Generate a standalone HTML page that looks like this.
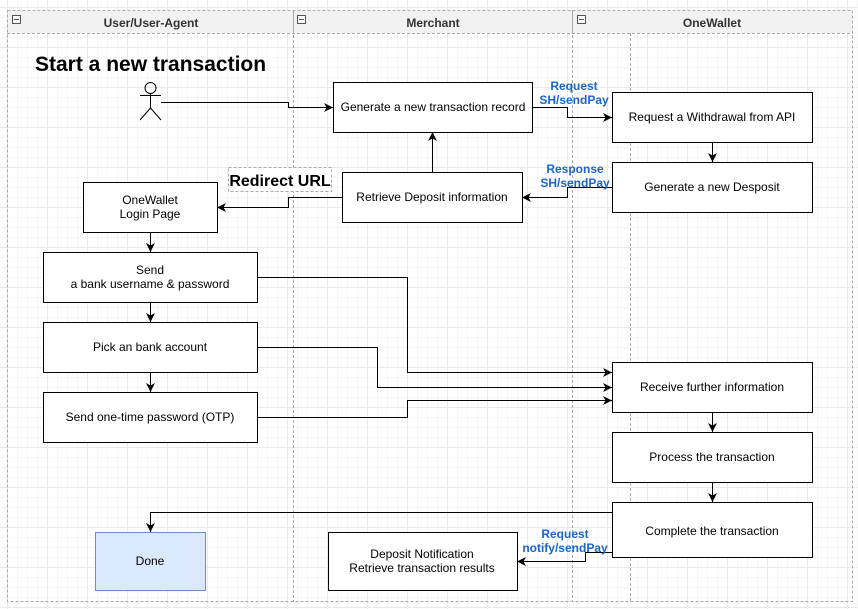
<!DOCTYPE html>
<html><head><meta charset="utf-8"><style>
html,body{margin:0;padding:0}
body{width:858px;height:609px;overflow:hidden;background:#fff;
background-image:linear-gradient(#e9e9e9 1px,transparent 1px),linear-gradient(90deg,#e9e9e9 1px,transparent 1px),linear-gradient(#f5f5f5 1px,transparent 1px),linear-gradient(90deg,#f5f5f5 1px,transparent 1px);
background-size:40px 40px,40px 40px,10px 10px,10px 10px;background-position:7px 7px,7px 7px,7px 7px,7px 7px;
font-family:"Liberation Sans",Arial,sans-serif}
</style></head><body>
<svg width="858" height="609" xmlns="http://www.w3.org/2000/svg" style="position:absolute;left:0;top:0;font-family:'Liberation Sans',Arial,sans-serif">
<defs><marker id="a" markerWidth="12" markerHeight="12" refX="10" refY="6" orient="auto" markerUnits="userSpaceOnUse"><path d="M1,1.5 L10,6 L1,10.5 L3.5,6 Z" fill="#000"/></marker></defs>
<g stroke="#aaa" stroke-dasharray="3,2" fill="none">
<rect x="7.5" y="10.5" width="845" height="591"/>
<line x1="293.5" y1="10" x2="293.5" y2="602"/>
<line x1="572.5" y1="10" x2="572.5" y2="602"/>
<line x1="630.5" y1="33" x2="630.5" y2="602"/>
<line x1="7" y1="33.5" x2="853" y2="33.5"/>
</g>
<rect x="8" y="11" width="844" height="22" fill="#f2f2f2"/>
<g stroke="#aaa" fill="none"><line x1="293.5" y1="10" x2="293.5" y2="33"/><line x1="572.5" y1="10" x2="572.5" y2="33"/></g>
<g fill="#fff" stroke="#555"><rect x="12.5" y="15.5" width="8" height="8"/><rect x="297.5" y="15.5" width="8" height="8"/><rect x="577.5" y="15.5" width="8" height="8"/></g>
<g stroke="#555"><line x1="14" y1="19.5" x2="19" y2="19.5"/><line x1="299" y1="19.5" x2="304" y2="19.5"/><line x1="579" y1="19.5" x2="584" y2="19.5"/></g>
<g font-size="12" font-weight="bold" fill="#333" text-anchor="middle"><text x="151" y="27">User/User-Agent</text><text x="433" y="27">Merchant</text><text x="712" y="27">OneWallet</text></g>
<text x="35" y="71" font-size="21" font-weight="bold">Start a new transaction</text>
<g stroke="#000" fill="none" stroke-width="1"><circle cx="150.5" cy="88" r="5.5"/><line x1="150.5" y1="93.5" x2="150.5" y2="108"/><line x1="140" y1="95.5" x2="161" y2="95.5"/><line x1="150.5" y1="108" x2="140" y2="120"/><line x1="150.5" y1="108" x2="161" y2="120"/></g>
<g stroke="#000" fill="#fff">
<rect x="333.5" y="82.5" width="199" height="50"/>
<rect x="612.5" y="92.5" width="200" height="50"/>
<rect x="612.5" y="162.5" width="200" height="50"/>
<rect x="342.5" y="172.5" width="180" height="50"/>
<rect x="83.5" y="182.5" width="134" height="50"/>
<rect x="43.5" y="252.5" width="214" height="50"/>
<rect x="43.5" y="322.5" width="214" height="50"/>
<rect x="43.5" y="392.5" width="214" height="50"/>
<rect x="612.5" y="362.5" width="200" height="50"/>
<rect x="612.5" y="432.5" width="200" height="50"/>
<rect x="612.5" y="502.5" width="200" height="55"/>
<rect x="328.5" y="532.5" width="189" height="58"/>
</g>
<rect x="95.5" y="532.5" width="110" height="58" fill="#dae8fc" stroke="#6c8ebf"/>
<rect x="228.5" y="167.5" width="103" height="24" fill="#fff" stroke="#aaa" stroke-dasharray="3,2"/>
<text x="280" y="186" font-size="16" font-weight="bold" text-anchor="middle">Redirect URL</text>
<g font-size="12" text-anchor="middle" fill="#000">
<text x="433" y="111">Generate a new transaction record</text>
<text x="712" y="121">Request a Withdrawal from API</text>
<text x="712" y="191">Generate a new Desposit</text>
<text x="432" y="201">Retrieve Deposit information</text>
<text x="150" y="204">OneWallet</text><text x="150" y="218">Login Page</text>
<text x="150" y="274">Send</text><text x="150" y="288">a bank username &amp; password</text>
<text x="150" y="351">Pick an bank account</text>
<text x="150" y="421">Send one-time password (OTP)</text>
<text x="712" y="391">Receive further information</text>
<text x="712" y="461">Process the transaction</text>
<text x="712" y="535">Complete the transaction</text>
<text x="150" y="565">Done</text>
<text x="422" y="558">Deposit Notification</text><text x="422" y="572">Retrieve transaction results</text>
</g>
<g stroke="#000" fill="none" marker-end="url(#a)">
<path d="M161,102.5 H288.5 V107.5 H333"/>
<path d="M532,107.5 H567.5 V117.5 H612"/>
<path d="M712.5,142 V162"/>
<path d="M612,187.5 H567.5 V197.5 H522"/>
<path d="M432.5,172 V132"/>
<path d="M342,197.5 H288.5 V207.5 H217"/>
<path d="M150.5,232 V252"/>
<path d="M150.5,302 V322"/>
<path d="M150.5,372 V392"/>
<path d="M257,277.5 H407.5 V372.5 H612"/>
<path d="M257,347.5 H377.5 V387.5 H612"/>
<path d="M257,417.5 H407.5 V400.5 H612"/>
<path d="M712.5,412 V432"/>
<path d="M712.5,482 V502"/>
<path d="M612,512.5 H150.5 V532"/>
<path d="M612,552.5 H585.5 V561.5 H517"/>
</g>
<g font-size="12" font-weight="bold" fill="#1a66cc" text-anchor="middle">
<text x="574" y="90">Request</text><text x="574" y="104">SH/sendPay</text>
<text x="575" y="173">Response</text><text x="575" y="187">SH/sendPay</text>
<text x="565" y="538">Request</text><text x="565" y="552">notify/sendPay</text>
</g>
</svg>
</body></html>
